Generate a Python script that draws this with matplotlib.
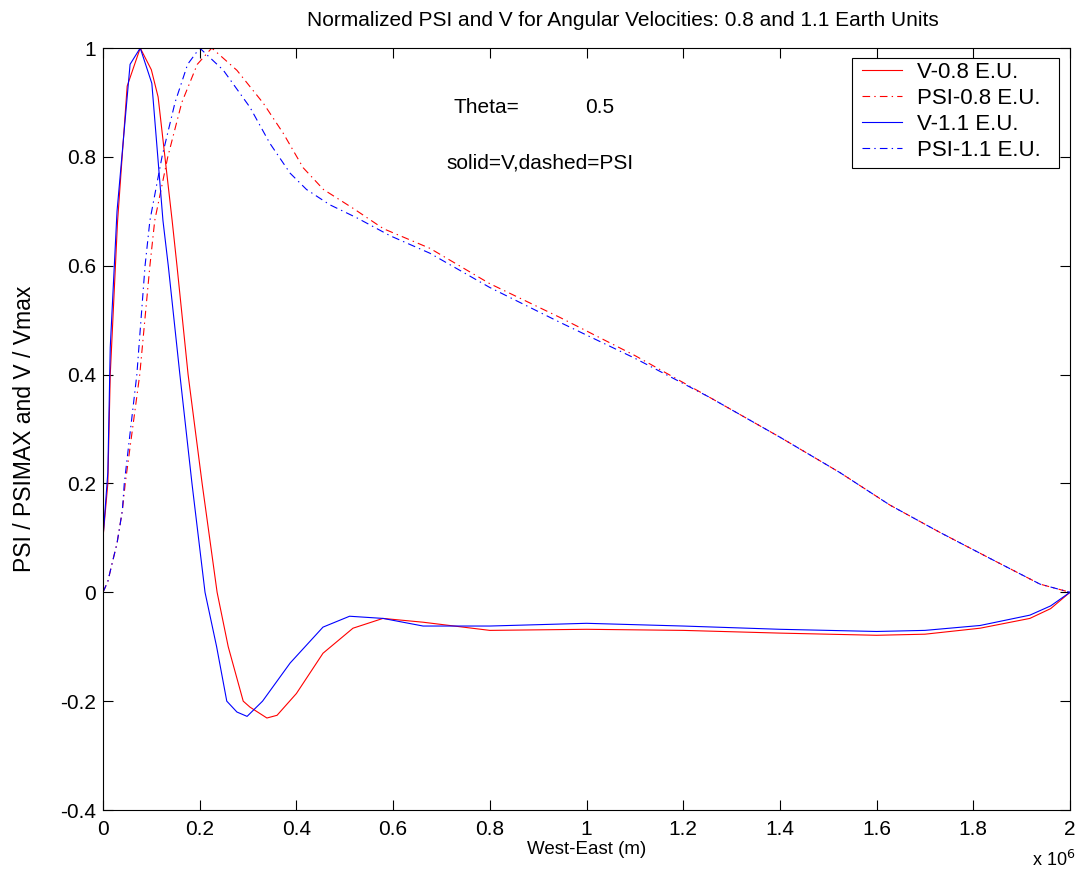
import matplotlib
matplotlib.use("Agg")
import matplotlib.pyplot as plt
from matplotlib.patches import Rectangle
import numpy as np

plt.rcParams['font.family'] = ['Liberation Sans', 'DejaVu Sans']
plt.rcParams['lines.scale_dashes'] = False

# x positions in units of 10^6 m
x_v08 = [0, 0.01, 0.015, 0.03, 0.05, 0.077, 0.1, 0.114, 0.143, 0.153, 0.176, 0.205, 0.236,
         0.259, 0.29, 0.304, 0.339, 0.36, 0.40, 0.455, 0.517, 0.579, 0.662, 0.8, 1.0, 1.2,
         1.4, 1.6, 1.7, 1.814, 1.917, 1.96, 2.0]
v08 = [0.1, 0.2, 0.4, 0.68, 0.93, 1.0, 0.96, 0.91, 0.683, 0.6, 0.4, 0.2, 0.0,
       -0.1, -0.2, -0.211, -0.231, -0.226, -0.186, -0.112, -0.066, -0.048, -0.055, -0.07, -0.068, -0.07,
       -0.075, -0.079, -0.077, -0.066, -0.048, -0.03, 0.0]

x_v11 = [0, 0.01, 0.015, 0.029, 0.056, 0.077, 0.101, 0.124, 0.135, 0.159, 0.184, 0.211,
         0.235, 0.256, 0.277, 0.298, 0.33, 0.387, 0.455, 0.51, 0.579, 0.662, 0.8, 1.0, 1.2,
         1.4, 1.6, 1.7, 1.814, 1.917, 1.96, 2.0]
v11 = [0.1, 0.22, 0.45, 0.7, 0.97, 1.0, 0.935, 0.683, 0.6, 0.4, 0.2, 0.0,
       -0.1, -0.2, -0.22, -0.228, -0.2, -0.13, -0.064, -0.044, -0.048, -0.062, -0.062, -0.057, -0.062,
       -0.068, -0.072, -0.07, -0.061, -0.042, -0.025, 0.0]

x_p08 = [0, 0.01, 0.018, 0.029, 0.04, 0.046, 0.076, 0.097, 0.107, 0.134, 0.163, 0.195, 0.225,
         0.277, 0.332, 0.373, 0.414, 0.456, 0.518, 0.58, 0.676, 0.8, 0.945, 1.1, 1.255, 1.4,
         1.524, 1.628, 1.731, 1.835, 1.938, 2.0]
p08 = [0, 0.02, 0.05, 0.09, 0.15, 0.2, 0.4, 0.6, 0.683, 0.8, 0.9, 0.97, 1.0,
       0.959, 0.898, 0.843, 0.78, 0.74, 0.705, 0.668, 0.632, 0.567, 0.505, 0.435, 0.358, 0.285,
       0.22, 0.16, 0.11, 0.062, 0.015, 0.0]

x_p11 = [0, 0.01, 0.018, 0.029, 0.04, 0.044, 0.07, 0.087, 0.097, 0.122, 0.149, 0.175, 0.2,
         0.249, 0.304, 0.345, 0.387, 0.421, 0.469, 0.525, 0.594, 0.676, 0.8, 0.945, 1.1, 1.255,
         1.4, 1.524, 1.628, 1.731, 1.835, 1.938, 2.0]
p11 = [0, 0.02, 0.05, 0.09, 0.15, 0.2, 0.4, 0.6, 0.683, 0.8, 0.9, 0.97, 1.0,
       0.959, 0.891, 0.825, 0.77, 0.74, 0.712, 0.688, 0.655, 0.623, 0.56, 0.496, 0.43, 0.358,
       0.285, 0.22, 0.16, 0.11, 0.062, 0.015, 0.0]

labels = ['V-0.8 E.U.', 'PSI-0.8 E.U.', 'V-1.1 E.U.', 'PSI-1.1 E.U.']
x_ticks = [0, 0.2, 0.4, 0.6, 0.8, 1, 1.2, 1.4, 1.6, 1.8, 2]
y_ticks = [-0.4, -0.2, 0, 0.2, 0.4, 0.6, 0.8, 1]

W, H = 1078, 888
FS = 15
fig = plt.figure(figsize=(W/100, H/100), dpi=100)
ax = fig.add_axes([103/W, 1 - 810/H, (1070-103)/W, (810-48)/H])

dashdot = (0, (5.5, 3, 1, 3))
lw = 0.8
ax.plot(np.array(x_v08)*1e6, v08, color='#ff0000', lw=lw, ls='-', label=labels[0])
ax.plot(np.array(x_p08)*1e6, p08, color='#ff0000', lw=lw, ls=dashdot, label=labels[1])
ax.plot(np.array(x_v11)*1e6, v11, color='#0000ff', lw=lw, ls='-', label=labels[2])
ax.plot(np.array(x_p11)*1e6, p11, color='#0000ff', lw=lw, ls=dashdot, label=labels[3])

ax.set_xlim(0, 2e6)
ax.set_ylim(-0.4, 1)
ax.set_xticks([t*1e6 for t in x_ticks])
ax.set_xticklabels([f"{t:g}" for t in x_ticks])
ax.set_yticks(y_ticks)
ax.set_yticklabels([f"{t:g}" for t in y_ticks])
ax.tick_params(direction='in', length=7, width=0.8, top=True, right=True, labelsize=FS)
ax.tick_params(axis='x', pad=7)
ax.tick_params(axis='y', pad=5)
for s in ax.spines.values():
    s.set_linewidth(0.8)

ax.set_title('Normalized PSI and V for Angular Velocities: 0.8 and 1.1 Earth Units',
             fontsize=FS, pad=16, x=(623-103)/967)
ax.set_xlabel('West-East (m)', fontsize=13.5, va='center')
ax.xaxis.set_label_coords(0.5, (810-849)/762)
ax.set_ylabel('PSI / PSIMAX and V / Vmax', fontsize=16.5, labelpad=17)

fig.text(1032/W, 1 - 860/H, r'x 10$^{6}$', fontsize=13, ha='left', va='center')

ax.text(0.724e6, 0.89, 'Theta=', fontsize=FS, ha='left', va='center')
ax.text(0.997e6, 0.89, '0.5', fontsize=FS, ha='left', va='center')
ax.text(0.711e6, 0.788, 'solid=V,dashed=PSI', fontsize=FS, ha='left', va='center')

leg = fig.legend(*ax.get_legend_handles_labels(), loc='upper left', fontsize=16, frameon=False,
                 borderpad=0, labelspacing=0.22, handlelength=1.8, handletextpad=0.68,
                 bbox_to_anchor=(862/W, 1 - 62/H), borderaxespad=0)
fig.add_artist(Rectangle((852/W, 1 - 168/H), (1059-852)/W, (168-58)/H, transform=fig.transFigure,
                         facecolor='white', edgecolor='black', lw=0.8, zorder=2.5))
leg.set_zorder(3)

fig.savefig('out.png', dpi=100)
